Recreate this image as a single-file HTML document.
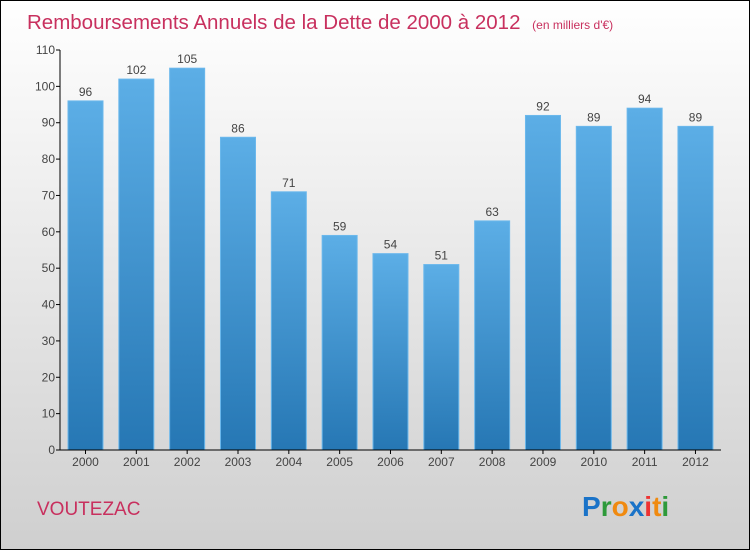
<!DOCTYPE html>
<html><head><meta charset="utf-8"><style>
body{margin:0}
svg{display:block;font-family:"Liberation Sans",sans-serif}
</style></head><body>
<svg id="c" width="750" height="550" viewBox="0 0 750 550">
<defs>
<linearGradient id="bg" x1="0" y1="0" x2="0" y2="1"><stop offset="0" stop-color="#ffffff"/><stop offset="1" stop-color="#cfcfcf"/></linearGradient>
<linearGradient id="bar" x1="0" y1="0" x2="0" y2="1"><stop offset="0" stop-color="#5caee6"/><stop offset="1" stop-color="#2677b4"/></linearGradient>
</defs>
<rect x="0.5" y="0.5" width="749" height="549" fill="url(#bg)" stroke="#000"/>
<text x="27" y="29" font-size="20.5" fill="#c8305e">Remboursements Annuels de la Dette de 2000 à 2012 <tspan font-size="12" dx="6">(en milliers d'€)</tspan></text>
<g id="plot"></g>
<text x="37" y="515" font-size="19" fill="#c8305e">VOUTEZAC</text>
<g font-size="28" font-weight="bold" font-family="'Liberation Sans',sans-serif">
<text x="582" y="516"><tspan fill="#1a73c8">P</tspan><tspan fill="#2e9a3a">r</tspan><tspan fill="#f08a10">o</tspan><tspan fill="#1a73c8">x</tspan><tspan fill="#e33">i</tspan><tspan fill="#f08a10">t</tspan><tspan fill="#2e9a3a">i</tspan></text>
</g>
</svg>
<script>
const years=["2000","2001","2002","2003","2004","2005","2006","2007","2008","2009","2010","2011","2012"];
const values=[96,102,105,86,71,59,54,51,63,92,89,94,89];
const yTicks=[0,10,20,30,40,50,60,70,80,90,100,110];
const NS="http://www.w3.org/2000/svg";
const g=document.getElementById('plot');
const y=v=>450-v*400/110;
const x=i=>85.5+i*50.83;
function mk(t,a,p){const e=document.createElementNS(NS,t);for(const k in a)e.setAttribute(k,a[k]);(p||g).appendChild(e);return e;}
yTicks.forEach(v=>{
  const tk=mk('line',{x1:56,x2:60,y1:y(v),y2:y(v),stroke:'#000'});
  
  
  const t=mk('text',{x:55,y:y(v)+4,'font-size':12,'text-anchor':'end',fill:'#444'});
  t.textContent=v;
  
  
});
values.forEach((v,i)=>{
  const r=mk('rect',{x:x(i)-17.5,y:y(v),width:35,height:450-y(v),fill:'url(#bar)',stroke:'#6bb8ec','stroke-width':1});
  
  
  const t=mk('text',{x:x(i),y:y(v)-5,'font-size':12,'text-anchor':'middle',fill:'#444'});
  t.textContent=v;
  
  
  const tk=mk('line',{x1:x(i),x2:x(i),y1:450,y2:454,stroke:'#000'});
  
  
  const l=mk('text',{x:x(i),y:466,'font-size':12,'text-anchor':'middle',fill:'#444'});
  l.textContent=years[i];
  
  
});
const ya=mk('line',{x1:60,x2:60,y1:50,y2:450,stroke:'#000'});


const xa=mk('line',{x1:60,x2:721,y1:450,y2:450,stroke:'#000'});


</script>
</body></html>
